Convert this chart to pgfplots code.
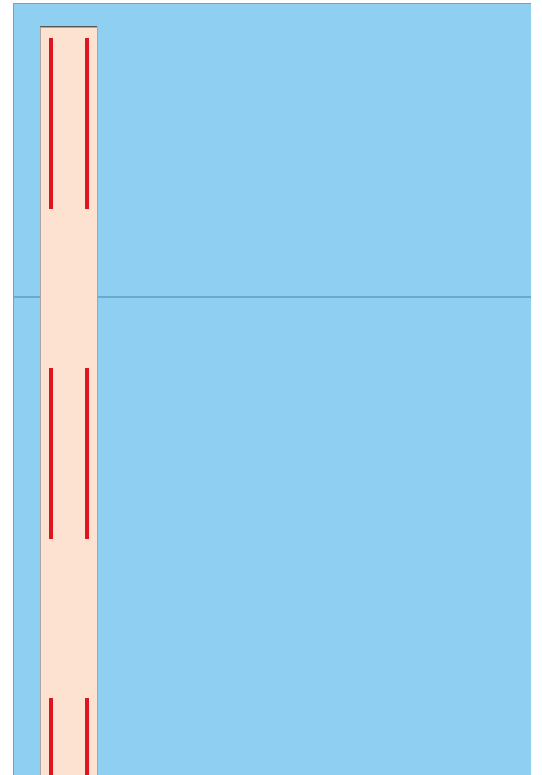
\documentclass[border=0pt]{standalone}
\usepackage{pgfplots}
\pgfplotsset{compat=1.18}
\definecolor{bgblue}{RGB}{143,208,242}
\definecolor{peach}{RGB}{253,226,210}
\definecolor{dashred}{RGB}{222,20,30}
\definecolor{hline}{RGB}{108,168,210}
\definecolor{baredge}{RGB}{170,165,160}
\begin{document}
\begin{tikzpicture}
\begin{axis}[
  scale only axis, width=518pt, height=772pt,
  xmin=0, xmax=518, ymin=0, ymax=772,
  axis background/.style={fill=bgblue},
  axis line style={draw=none},
  ticks=none,
]
\addplot[hline!85!gray, line width=1pt] coordinates {(0,771.5) (518,771.5)};
\addplot[hline!85!gray, line width=0.6pt] coordinates {(0.3,0) (0.3,772)};
\addplot[hline, line width=1.4pt] coordinates {(0,478) (518,478)};
\addplot[fill=peach, draw=baredge, line width=0.6pt] coordinates {(27,0) (27,748) (84,748) (84,0)} \closedcycle;
\addplot[draw=gray!70!black, line width=1pt] coordinates {(27,748) (84,748)};
\addplot[dashred, line width=4pt, dash pattern=on 171pt off 159pt] coordinates {(38,737) (38,0)};
\addplot[dashred, line width=4pt, dash pattern=on 171pt off 159pt] coordinates {(74,737) (74,0)};
\end{axis}
\path (current axis.south west) ++(-13pt,0pt) coordinate (bl);
\path (current axis.north east) ++(10pt,3pt) coordinate (tr);
\useasboundingbox (bl) rectangle (tr);
\end{tikzpicture}
\end{document}
